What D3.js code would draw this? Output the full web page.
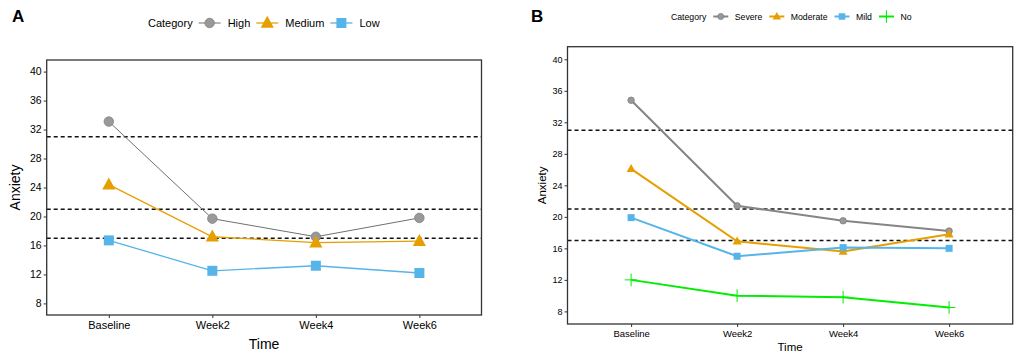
<!DOCTYPE html>
<html><head><meta charset="utf-8">
<script src="https://cdn.jsdelivr.net/npm/d3@7"></script>
<style>body{margin:0;background:#fff}svg{display:block;font-family:"Liberation Sans",Arial,sans-serif}</style>
</head><body><svg id="c" width="1021" height="361"></svg>
<script>
const timepoints = ["Baseline","Week2","Week4","Week6"];
const yTicks = [8,12,16,20,24,28,32,36,40];
const cutoffs = [31,21,17];

const catsA = ["High","Medium","Low"];
const highA   = [33.1,19.7,17.2,19.8];
const mediumA = [24.4,17.2,16.4,16.6];
const lowA    = [16.7,12.5,13.2,12.2];

const catsB = ["Severe","Moderate","Mild","No"];
const severeB   = [34.8,21.4,19.5,18.2];
const moderateB = [26.1,16.9,15.6,17.8];
const mildB     = [19.9,15.0,16.1,16.0];
const noB       = [12.0,10.0,9.8,8.5];

const colors = ["#999999","#E69F00","#56B4E9","#00EE00"];
const shapes = ["circle","triangle","square","plus"];

const svg = d3.select("#c");

function drawMarker(g, shape, x, y, size, color){
  if(shape==="circle"){
    g.append("circle").attr("cx",x).attr("cy",y).attr("r",size/2)
      .attr("fill",color).attr("stroke","#7f7f7f").attr("stroke-width",0.8);
  } else if(shape==="triangle"){
    const h=size*1.05, w=size*1.2;
    g.append("path").attr("d",`M${x},${y-h*0.62}L${x+w/2},${y+h*0.42}L${x-w/2},${y+h*0.42}Z`).attr("fill",color);
  } else if(shape==="square"){
    g.append("rect").attr("x",x-size/2).attr("y",y-size/2).attr("width",size).attr("height",size).attr("fill",color);
  } else {
    const s=size*0.7;
    g.append("path").attr("d",`M${x-s},${y}H${x+s}M${x},${y-s}V${y+s}`).attr("stroke",color).attr("stroke-width",1);
  }
}

function panel(opt){
  const {left,top,right,bottom,series,cats,label,labelX,legendX,legendY,legFont,tickFont,titleFont,lineW,mSize,legGapBefore,legGapAfter,legKeyW,timeY,anxX} = opt;
  const x = d3.scalePoint().domain(timepoints).range([left,right]).padding(0.6);
  const y = d3.scaleLinear().domain([6.4,41.6]).range([bottom,top]);
  const g = svg.append("g");
  g.selectAll(".cut").data(cutoffs).join("line")
    .attr("x1",left).attr("x2",right).attr("y1",d=>y(d)).attr("y2",d=>y(d))
    .attr("stroke","#111").attr("stroke-width",1.5).attr("stroke-dasharray","4,3");
  const line = d3.line().x((d,i)=>x(timepoints[i])).y(d=>y(d));
  series.forEach((s,k)=>{
    g.append("path").attr("d",line(s)).attr("fill","none")
      .attr("stroke",k===0?opt.grayLine:colors[k]).attr("stroke-width",lineW[k]);
  });
  series.forEach((s,k)=>{
    s.forEach((v,i)=>drawMarker(g,shapes[k],x(timepoints[i]),y(v),mSize[k],colors[k]));
  });
  g.append("rect").attr("x",left).attr("y",top).attr("width",right-left).attr("height",bottom-top)
    .attr("fill","none").attr("stroke","#333").attr("stroke-width",1.3);
  const ya = g.append("g").attr("transform",`translate(${left},0)`)
    .call(d3.axisLeft(y).tickValues(yTicks).tickSize(3).tickPadding(2));
  ya.select(".domain").remove();
  ya.selectAll("text").attr("font-size",tickFont).attr("fill","#000").attr("font-family","Liberation Sans, Arial, sans-serif");
  ya.selectAll("line").attr("stroke","#333");
  const xa = g.append("g").attr("transform",`translate(0,${bottom})`)
    .call(d3.axisBottom(x).tickSize(3).tickPadding(3));
  xa.select(".domain").remove();
  xa.selectAll("text").attr("font-size",tickFont+0.5).attr("fill","#000").attr("font-family","Liberation Sans, Arial, sans-serif");
  xa.selectAll("line").attr("stroke","#333");
  g.append("text").attr("x",(left+right)/2).attr("y",timeY).attr("text-anchor","middle")
    .attr("font-size",titleFont).text("Time");
  g.append("text").attr("transform",`translate(${anxX},${(top+bottom)/2}) rotate(-90)`).attr("text-anchor","middle")
    .attr("font-size",titleFont).text("Anxiety");
  g.append("text").attr("x",labelX).attr("y",22).attr("font-size",17).attr("font-weight","bold").text(label);
  const lg = g.append("g");
  let cx = legendX;
  const t0 = lg.append("text").attr("x",cx).attr("y",legendY).attr("dy","0.35em").attr("font-size",legFont).text("Category");
  cx += t0.node().getComputedTextLength() + legGapBefore;
  cats.forEach((c,k)=>{
    lg.append("line").attr("x1",cx).attr("x2",cx+legKeyW).attr("y1",legendY).attr("y2",legendY)
      .attr("stroke",k===0?opt.grayLine:colors[k]).attr("stroke-width",lineW[k]);
    drawMarker(lg,shapes[k],cx+legKeyW/2,legendY,opt.legM[k],colors[k]);
    cx += legKeyW + legGapAfter;
    const t = lg.append("text").attr("x",cx).attr("y",legendY).attr("dy","0.35em").attr("font-size",legFont).text(c);
    cx += t.node().getComputedTextLength() + legGapBefore;
  });
}

panel({left:46.7,top:60,right:481.5,bottom:315,series:[highA,mediumA,lowA],cats:catsA,label:"A",labelX:12,
  legendX:148,legendY:23,legFont:11,tickFont:10.5,titleFont:14,lineW:[1,1.3,1.3],mSize:[9.5,11,10],legM:[9.5,11,10],
  legGapBefore:6,legGapAfter:7,legKeyW:22,timeY:349,anxX:20,grayLine:"#707070"});
panel({left:567.5,top:46.7,right:1012.7,bottom:324,series:[severeB,moderateB,mildB,noB],cats:catsB,label:"B",labelX:531,
  legendX:671,legendY:16.5,legFont:8.7,tickFont:9,titleFont:11.5,lineW:[2,2,2,2],mSize:[6.5,7.5,7,9],legM:[6,7,6.5,9],
  legGapBefore:7,legGapAfter:6.5,legKeyW:15,timeY:351,anxX:546,grayLine:"#858585"});
</script></body></html>
